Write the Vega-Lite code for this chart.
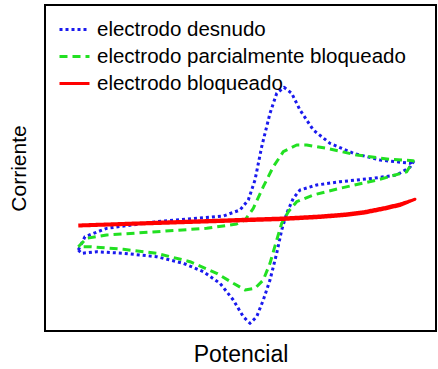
{
  "$schema": "https://vega.github.io/schema/vega-lite/v6.json",
  "width": 391,
  "height": 326,
  "autosize": {"type": "none"},
  "padding": {"left": 45, "top": 5, "right": 2, "bottom": 38},
  "background": "white",
  "config": {
    "view": {"stroke": "black", "strokeWidth": 2},
    "font": "Liberation Sans"
  },
  "data": {"values": [
    {"s": "electrodo desnudo", "i": 0, "x": 33.3, "y": 81},
    {"s": "electrodo desnudo", "i": 1, "x": 40, "y": 94.3},
    {"s": "electrodo desnudo", "i": 2, "x": 61.7, "y": 102.7},
    {"s": "electrodo desnudo", "i": 3, "x": 111.7, "y": 109.3},
    {"s": "electrodo desnudo", "i": 4, "x": 151.7, "y": 112.7},
    {"s": "electrodo desnudo", "i": 5, "x": 178.3, "y": 115},
    {"s": "electrodo desnudo", "i": 6, "x": 195, "y": 121},
    {"s": "electrodo desnudo", "i": 7, "x": 203.3, "y": 131},
    {"s": "electrodo desnudo", "i": 8, "x": 210, "y": 151},
    {"s": "electrodo desnudo", "i": 9, "x": 216.7, "y": 184.3},
    {"s": "electrodo desnudo", "i": 10, "x": 225, "y": 217.7},
    {"s": "electrodo desnudo", "i": 11, "x": 231.7, "y": 237.7},
    {"s": "electrodo desnudo", "i": 12, "x": 239, "y": 243.7},
    {"s": "electrodo desnudo", "i": 13, "x": 246.7, "y": 237.7},
    {"s": "electrodo desnudo", "i": 14, "x": 255, "y": 221},
    {"s": "electrodo desnudo", "i": 15, "x": 268.3, "y": 201},
    {"s": "electrodo desnudo", "i": 16, "x": 285, "y": 187.7},
    {"s": "electrodo desnudo", "i": 17, "x": 308.3, "y": 177.7},
    {"s": "electrodo desnudo", "i": 18, "x": 335, "y": 171},
    {"s": "electrodo desnudo", "i": 19, "x": 365, "y": 167.7},
    {"s": "electrodo desnudo", "i": 20, "x": 369, "y": 170.3},
    {"s": "electrodo desnudo", "i": 21, "x": 365, "y": 163.7},
    {"s": "electrodo desnudo", "i": 22, "x": 351.7, "y": 156},
    {"s": "electrodo desnudo", "i": 23, "x": 328.3, "y": 152.7},
    {"s": "electrodo desnudo", "i": 24, "x": 295, "y": 149.3},
    {"s": "electrodo desnudo", "i": 25, "x": 271.7, "y": 146},
    {"s": "electrodo desnudo", "i": 26, "x": 255, "y": 141},
    {"s": "electrodo desnudo", "i": 27, "x": 248.3, "y": 132.7},
    {"s": "electrodo desnudo", "i": 28, "x": 241.7, "y": 117.7},
    {"s": "electrodo desnudo", "i": 29, "x": 236.7, "y": 101},
    {"s": "electrodo desnudo", "i": 30, "x": 231.7, "y": 77.7},
    {"s": "electrodo desnudo", "i": 31, "x": 225, "y": 51},
    {"s": "electrodo desnudo", "i": 32, "x": 218.3, "y": 31},
    {"s": "electrodo desnudo", "i": 33, "x": 211.7, "y": 14.3},
    {"s": "electrodo desnudo", "i": 34, "x": 205, "y": 7.7},
    {"s": "electrodo desnudo", "i": 35, "x": 198.3, "y": 14.3},
    {"s": "electrodo desnudo", "i": 36, "x": 188.3, "y": 31},
    {"s": "electrodo desnudo", "i": 37, "x": 175, "y": 47.7},
    {"s": "electrodo desnudo", "i": 38, "x": 158.3, "y": 59.3},
    {"s": "electrodo desnudo", "i": 39, "x": 138.3, "y": 67.7},
    {"s": "electrodo desnudo", "i": 40, "x": 111.7, "y": 74.3},
    {"s": "electrodo desnudo", "i": 41, "x": 78.3, "y": 77.7},
    {"s": "electrodo desnudo", "i": 42, "x": 51.7, "y": 79.3},
    {"s": "electrodo desnudo", "i": 43, "x": 36.7, "y": 77.7},
    {"s": "electrodo desnudo", "i": 44, "x": 33.3, "y": 81},

    {"s": "electrodo parcialmente bloqueado", "i": 0, "x": 33.3, "y": 84.3},
    {"s": "electrodo parcialmente bloqueado", "i": 1, "x": 41.7, "y": 92.7},
    {"s": "electrodo parcialmente bloqueado", "i": 2, "x": 61.7, "y": 96},
    {"s": "electrodo parcialmente bloqueado", "i": 3, "x": 111.7, "y": 99.3},
    {"s": "electrodo parcialmente bloqueado", "i": 4, "x": 161.7, "y": 102.7},
    {"s": "electrodo parcialmente bloqueado", "i": 5, "x": 191.7, "y": 107},
    {"s": "electrodo parcialmente bloqueado", "i": 6, "x": 200, "y": 111},
    {"s": "electrodo parcialmente bloqueado", "i": 7, "x": 208.3, "y": 122.7},
    {"s": "electrodo parcialmente bloqueado", "i": 8, "x": 218.3, "y": 144.3},
    {"s": "electrodo parcialmente bloqueado", "i": 9, "x": 228.3, "y": 164.3},
    {"s": "electrodo parcialmente bloqueado", "i": 10, "x": 238.3, "y": 179.3},
    {"s": "electrodo parcialmente bloqueado", "i": 11, "x": 251.7, "y": 186},
    {"s": "electrodo parcialmente bloqueado", "i": 12, "x": 261.7, "y": 186},
    {"s": "electrodo parcialmente bloqueado", "i": 13, "x": 281.7, "y": 182.7},
    {"s": "electrodo parcialmente bloqueado", "i": 14, "x": 311.7, "y": 176},
    {"s": "electrodo parcialmente bloqueado", "i": 15, "x": 345, "y": 171.7},
    {"s": "electrodo parcialmente bloqueado", "i": 16, "x": 368.3, "y": 170.3},
    {"s": "electrodo parcialmente bloqueado", "i": 17, "x": 361.7, "y": 159.3},
    {"s": "electrodo parcialmente bloqueado", "i": 18, "x": 335, "y": 151.7},
    {"s": "electrodo parcialmente bloqueado", "i": 19, "x": 295, "y": 142.7},
    {"s": "electrodo parcialmente bloqueado", "i": 20, "x": 268.3, "y": 136},
    {"s": "electrodo parcialmente bloqueado", "i": 21, "x": 251.7, "y": 129.3},
    {"s": "electrodo parcialmente bloqueado", "i": 22, "x": 243.3, "y": 119.3},
    {"s": "electrodo parcialmente bloqueado", "i": 23, "x": 236.7, "y": 107.7},
    {"s": "electrodo parcialmente bloqueado", "i": 24, "x": 231.7, "y": 91},
    {"s": "electrodo parcialmente bloqueado", "i": 25, "x": 225, "y": 67.7},
    {"s": "electrodo parcialmente bloqueado", "i": 26, "x": 218.3, "y": 51},
    {"s": "electrodo parcialmente bloqueado", "i": 27, "x": 210, "y": 42.7},
    {"s": "electrodo parcialmente bloqueado", "i": 28, "x": 200, "y": 41},
    {"s": "electrodo parcialmente bloqueado", "i": 29, "x": 188.3, "y": 47.7},
    {"s": "electrodo parcialmente bloqueado", "i": 30, "x": 171.7, "y": 57.7},
    {"s": "electrodo parcialmente bloqueado", "i": 31, "x": 145, "y": 69.3},
    {"s": "electrodo parcialmente bloqueado", "i": 32, "x": 111.7, "y": 77.7},
    {"s": "electrodo parcialmente bloqueado", "i": 33, "x": 78.3, "y": 81.7},
    {"s": "electrodo parcialmente bloqueado", "i": 34, "x": 45, "y": 84.3},
    {"s": "electrodo parcialmente bloqueado", "i": 35, "x": 33.3, "y": 84.3},

    {"s": "electrodo bloqueado", "i": 0, "x": 33.3, "y": 106},
    {"s": "electrodo bloqueado", "i": 1, "x": 128, "y": 109.3},
    {"s": "electrodo bloqueado", "i": 2, "x": 238, "y": 113},
    {"s": "electrodo bloqueado", "i": 3, "x": 275, "y": 115},
    {"s": "electrodo bloqueado", "i": 4, "x": 300, "y": 117},
    {"s": "electrodo bloqueado", "i": 5, "x": 320, "y": 119.5},
    {"s": "electrodo bloqueado", "i": 6, "x": 340, "y": 123.5},
    {"s": "electrodo bloqueado", "i": 7, "x": 355, "y": 127},
    {"s": "electrodo bloqueado", "i": 8, "x": 370, "y": 131.7},
    {"s": "electrodo bloqueado", "i": 9, "x": 355, "y": 125.5},
    {"s": "electrodo bloqueado", "i": 10, "x": 340, "y": 122},
    {"s": "electrodo bloqueado", "i": 11, "x": 320, "y": 118},
    {"s": "electrodo bloqueado", "i": 12, "x": 300, "y": 115.5},
    {"s": "electrodo bloqueado", "i": 13, "x": 275, "y": 113.5},
    {"s": "electrodo bloqueado", "i": 14, "x": 238, "y": 111.5},
    {"s": "electrodo bloqueado", "i": 15, "x": 128, "y": 108},
    {"s": "electrodo bloqueado", "i": 16, "x": 33.3, "y": 105}
  ]},
  "mark": {"type": "line", "strokeCap": "butt", "strokeJoin": "round"},
  "encoding": {
    "x": {
      "field": "x", "type": "quantitative",
      "scale": {"domain": [0, 391], "nice": false, "zero": false},
      "axis": {"title": "Potencial", "labels": false, "ticks": false, "domain": false, "grid": false,
               "titleFont": "Liberation Sans", "titleFontSize": 23, "titleFontWeight": "normal", "titleColor": "black", "titlePadding": 12}
    },
    "y": {
      "field": "y", "type": "quantitative",
      "scale": {"domain": [0, 326], "nice": false, "zero": false},
      "axis": {"title": "Corriente", "labels": false, "ticks": false, "domain": false, "grid": false,
               "titleFont": "Liberation Sans", "titleFontSize": 21, "titleFontWeight": "normal", "titleColor": "black", "titlePadding": 16}
    },
    "order": {"field": "i", "type": "quantitative"},
    "color": {
      "field": "s", "type": "nominal",
      "scale": {"domain": ["electrodo desnudo", "electrodo parcialmente bloqueado", "electrodo bloqueado"],
                "range": ["#1a1aee", "#22e022", "#ff0000"]},
      "legend": {
        "title": null, "orient": "none", "legendX": 13, "legendY": 8,
        "symbolType": "stroke", "symbolSize": 900, "symbolStrokeWidth": 3,
        "labelFont": "Liberation Sans", "labelFontSize": 20.5, "labelColor": "black",
        "labelOffset": 6, "rowPadding": -5, "labelLimit": 400
      }
    },
    "strokeDash": {
      "field": "s", "type": "nominal",
      "scale": {"domain": ["electrodo desnudo", "electrodo parcialmente bloqueado", "electrodo bloqueado"],
                "range": [[3, 3], [8, 5], [1, 0]]},
      "legend": null
    },
    "strokeWidth": {
      "field": "s", "type": "nominal",
      "scale": {"domain": ["electrodo desnudo", "electrodo parcialmente bloqueado", "electrodo bloqueado"],
                "range": [3, 3, 4.5]},
      "legend": null
    }
  }
}
